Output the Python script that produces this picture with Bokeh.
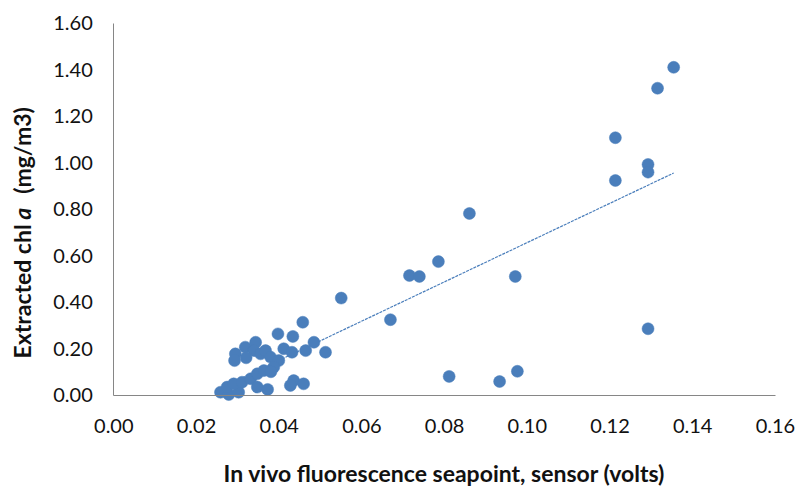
import math
import numpy as np
from bokeh.plotting import figure
from bokeh.models import Range1d, FixedTicker, NumeralTickFormatter, Label
from bokeh.embed import file_html
from bokeh.resources import INLINE

# ---- data ----
x_volts = [0.0258, 0.0278, 0.0302, 0.0274, 0.0290, 0.0310, 0.0331, 0.0347, 0.0363,
           0.0347, 0.0372, 0.0294, 0.0292, 0.0318, 0.0343, 0.0339, 0.0355, 0.0367,
           0.0379, 0.0399, 0.0387, 0.0380, 0.0411, 0.0431, 0.0464, 0.0512, 0.0484,
           0.0397, 0.0433, 0.0457, 0.0435, 0.0427, 0.0459, 0.0320,
           0.0550, 0.0669, 0.0715, 0.0739, 0.0785, 0.0860, 0.0971, 0.0811, 0.0933,
           0.0976, 0.1213, 0.1213, 0.1292, 0.1292, 0.1292, 0.1315, 0.1354]
chl_a = [0.012, 0.002, 0.012, 0.034, 0.048, 0.055, 0.070, 0.091, 0.105,
         0.034, 0.024, 0.177, 0.148, 0.206, 0.227, 0.191, 0.177, 0.191,
         0.163, 0.148, 0.120, 0.100, 0.199, 0.184, 0.191, 0.184, 0.227,
         0.263, 0.252, 0.313, 0.062, 0.041, 0.048, 0.160,
         0.417, 0.324, 0.514, 0.510, 0.574, 0.781, 0.510, 0.080, 0.058,
         0.102, 1.107, 0.923, 0.992, 0.959, 0.285, 1.320, 1.410]

x_ticks = [0.00, 0.02, 0.04, 0.06, 0.08, 0.10, 0.12, 0.14, 0.16]
y_ticks = [0.00, 0.20, 0.40, 0.60, 0.80, 1.00, 1.20, 1.40, 1.60]
x_title = "In vivo fluorescence seapoint, sensor (volts)"
y_title_parts = ["Extracted chl", "a", "(mg/m3)"]

BLUE = "#4a7ebb"
AXIS = "#868686"
TEXT = "#111111"
FONT = "Lato"

# ---- layout: the frame covers the whole canvas; axes sit at x=0 / y=0 ----
W, H = 798, 491
X0_PX, Y0_PX = 113.3, 394.5          # pixel position of the data origin
PX_PER_X, PX_PER_Y = 4135.0, 232.4   # pixels per data unit


def dx(px):
    return (px - X0_PX) / PX_PER_X


def dy(py):
    return (Y0_PX - py) / PX_PER_Y


p = figure(width=W, height=H, output_backend="svg", toolbar_location=None,
           x_range=Range1d(dx(0), dx(W)), y_range=Range1d(dy(H), dy(0)),
           min_border=0)
p.outline_line_color = None
p.grid.visible = False
p.background_fill_color = "white"
p.border_fill_color = "white"

p.xaxis.fixed_location = 0
p.xaxis.bounds = (x_ticks[0], x_ticks[-1])
p.yaxis.fixed_location = 0
p.yaxis.bounds = (y_ticks[0], y_ticks[-1])

for ax, ticks in ((p.xaxis, x_ticks), (p.yaxis, y_ticks)):
    ax.ticker = FixedTicker(ticks=ticks)
    ax.formatter = NumeralTickFormatter(format="0.00")
    ax.major_tick_line_color = None
    ax.minor_tick_line_color = None
    ax.major_tick_out = 0
    ax.major_tick_in = 0
    ax.minor_tick_out = 0
    ax.minor_tick_in = 0
    ax.axis_line_color = AXIS
    ax.axis_line_width = 1
    ax.major_label_text_font = FONT
    ax.major_label_text_font_size = "20px"
    ax.major_label_text_color = TEXT
p.xaxis.major_label_standoff = 24
p.yaxis.major_label_standoff = 21

# trendline (linear least squares over the data)
slope, intercept = np.polyfit(x_volts, chl_a, 1)
xs = [min(x_volts), max(x_volts)]
p.line(xs, [slope * v + intercept for v in xs], line_color=BLUE, line_width=1.2,
       line_dash="3 1")

p.scatter(x_volts, chl_a, size=12, fill_color=BLUE, line_color=BLUE, line_width=0.5)

# axis titles
p.add_layout(Label(x=dx(444), y=dy(472), text=x_title, text_align="center",
                   text_baseline="alphabetic", text_font=FONT, text_font_style="bold",
                   text_font_size="23px", text_color=TEXT))
ytx = dx(21.5)
p.add_layout(Label(x=ytx, y=dy(358), text=y_title_parts[0], angle=math.pi / 2,
                   text_align="left", text_baseline="alphabetic", text_font=FONT,
                   text_font_style="bold", text_font_size="23px", text_color=TEXT))
p.add_layout(Label(x=ytx, y=dy(213.3), text=y_title_parts[1], angle=math.pi / 2,
                   text_align="center", text_baseline="alphabetic", text_font=FONT,
                   text_font_style="bold italic", text_font_size="23px", text_color=TEXT))
p.add_layout(Label(x=ytx, y=dy(106.7), text=y_title_parts[2], angle=math.pi / 2,
                   text_align="right", text_baseline="alphabetic", text_font=FONT,
                   text_font_style="bold", text_font_size="23px", text_color=TEXT))

open("out.html", "w").write(file_html(p, INLINE))
